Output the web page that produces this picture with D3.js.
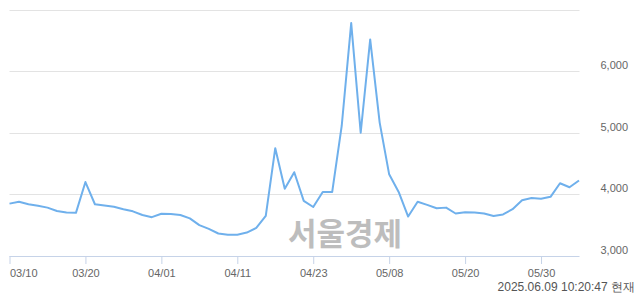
<!DOCTYPE html>
<html>
<head>
<meta charset="utf-8">
<script src="https://cdn.jsdelivr.net/npm/d3@7"></script>
<style>
  html, body { margin: 0; padding: 0; background: #fff; }
  #chart { width: 640px; height: 294px; }
  text { font-family: "Liberation Sans", Arial, sans-serif; }
</style>
</head>
<body>
<div id="chart"></div>
<script>
// trading days (MM/DD)
const dates = [
  '03/10', '03/11', '03/12', '03/13', '03/14', '03/17', '03/18', '03/19', '03/20', '03/21',
  '03/24', '03/25', '03/26', '03/27', '03/28', '03/31',
  '04/01', '04/02', '04/03', '04/04', '04/07', '04/08', '04/09', '04/10', '04/11', '04/14',
  '04/15', '04/16', '04/17', '04/18', '04/21', '04/22', '04/23', '04/24', '04/25', '04/28',
  '04/29', '04/30',
  '05/02', '05/07', '05/08', '05/09', '05/12', '05/13', '05/14', '05/15', '05/16', '05/19',
  '05/20', '05/21', '05/22', '05/23', '05/26', '05/27', '05/28', '05/29', '05/30',
  '06/02', '06/04', '06/05', '06/09'
];

const prices = [
  3850, 3880, 3840, 3815, 3785, 3730, 3705, 3700, 4200, 3840,
  3820, 3800, 3760, 3725, 3665, 3630,
  3685, 3680, 3665, 3610, 3500, 3440, 3365, 3345, 3345, 3380,
  3455, 3650, 4750, 4090, 4360, 3895, 3795, 4040, 4040, 5110,
  6780, 5000,
  6515, 5165, 4325, 4040, 3640, 3880, 3830, 3775, 3785, 3690,
  3710, 3705, 3690, 3650, 3675, 3760, 3905, 3940, 3930,
  3960, 4180, 4115, 4225
];

const xTickLabels = ['03/10', '03/20', '04/01', '04/11', '04/23', '05/08', '05/20', '05/30'];
const yGridValues = [4000, 5000, 6000, 7000];
const yTickLabels = [3000, 4000, 5000, 6000];
const stamp = '2025.06.09 10:20:47 현재';
const watermark = '서울경제';

(function () {
  const w = 640, h = 294;
  const left = 9.5, right = 579.5, top = 9.5, bottom = 256;

  const svg = d3.select('#chart')
    .append('svg')
    .attr('width', w)
    .attr('height', h)
    .attr('viewBox', `0 0 ${w} ${h}`);

  const x = d3.scalePoint()
    .domain(dates)
    .range([left, right - 0.5]);

  const y = d3.scaleLinear()
    .domain([3000, 7000])
    .range([bottom, top]);

  // horizontal grid
  svg.append('g')
    .attr('class', 'grid')
    .selectAll('line')
    .data(yGridValues)
    .enter()
    .append('line')
    .attr('x1', left)
    .attr('x2', right)
    .attr('y1', d => Math.round(y(d)) + 0.5)
    .attr('y2', d => Math.round(y(d)) + 0.5)
    .attr('stroke', '#e3e3e3')
    .attr('stroke-width', 1);

  // watermark sits under the line
  svg.append('text')
    .attr('x', 345)
    .attr('y', 245)
    .attr('text-anchor', 'middle')
    .attr('font-family', '"Noto Sans CJK KR", sans-serif')
    .attr('font-size', 31)
    .attr('font-weight', 700)
    .attr('fill', '#bdbdbd')
    .style('font-family', '"Noto Sans CJK KR", sans-serif')
    .text(watermark);

  // x axis
  const xAxis = d3.axisBottom(x)
    .tickValues(xTickLabels)
    .tickSize(8)
    .tickPadding(5);

  const gx = svg.append('g')
    .attr('class', 'x-axis')
    .attr('transform', `translate(0,${bottom})`)
    .call(xAxis);

  gx.select('.domain')
    .attr('d', `M${left},0.5H${right}`)
    .attr('stroke', '#c6d3e8');
  gx.selectAll('.tick line')
    .attr('stroke', '#c6d3e8');
  gx.selectAll('.tick text')
    .attr('font-size', 11)
    .attr('fill', '#666')
    .attr('text-anchor', (d, i) => i === 0 ? 'start' : 'middle');

  // y labels on the right
  svg.append('g')
    .attr('class', 'y-labels')
    .selectAll('text')
    .data(yTickLabels)
    .enter()
    .append('text')
    .attr('x', 628)
    .attr('y', d => y(d) - 2)
    .attr('text-anchor', 'end')
    .attr('font-size', 11)
    .attr('fill', '#666')
    .text(d => d3.format(',')(d));

  // price line
  const line = d3.line()
    .x((d, i) => x(dates[i]))
    .y(d => y(d));

  svg.append('path')
    .datum(prices)
    .attr('fill', 'none')
    .attr('stroke', '#6fb0ec')
    .attr('stroke-width', 2)
    .attr('stroke-linejoin', 'round')
    .attr('d', line);

  // timestamp
  svg.append('text')
    .attr('x', 635)
    .attr('y', 291)
    .attr('text-anchor', 'end')
    .attr('font-size', 12)
    .attr('fill', '#555')
    .text(stamp);
})();
</script>
</body>
</html>
